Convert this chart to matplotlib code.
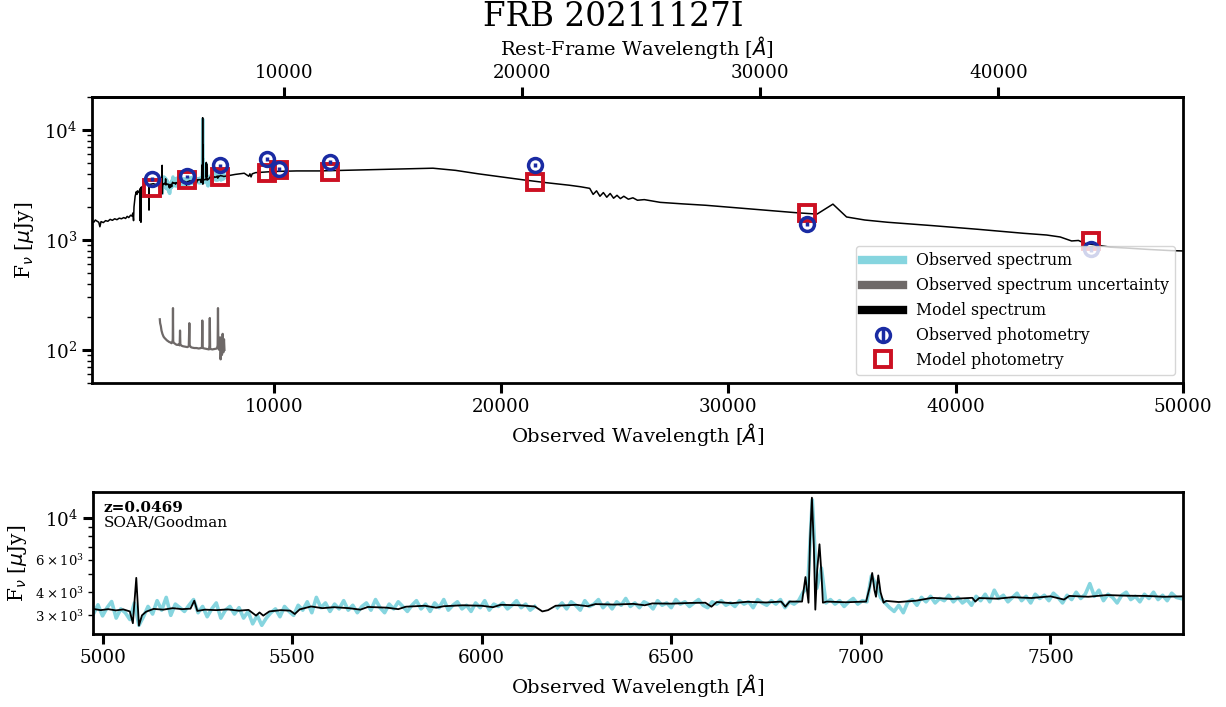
import numpy as np
import matplotlib
matplotlib.use("Agg")
import matplotlib.pyplot as plt
from matplotlib.lines import Line2D

plt.rcParams['font.family'] = ['DejaVu Serif']
plt.rcParams['mathtext.fontset'] = 'dejavusans'

# --- data ---
title = "FRB 20211127I"
redshift = 0.0469

# broad-band photometry (observed frame, Angstrom / microJy)
phot_wave = [4640, 6180, 7630, 9700, 10230, 12470, 21490, 33460, 45950]
obs_phot = [3590, 3820, 4810, 5450, 4420, 5120, 4810, 1400, 830]
obs_phot_err = [150, 120, 150, 200, 180, 200, 200, 60, 50]
model_phot = [2970, 3510, 3740, 4060, 4350, 4150, 3370, 1760, 980]

# model spectrum (observed frame)
model_wave = [2000, 2080, 2150, 2230, 2300, 2350, 2400, 2500, 2600, 2700, 2800,
              2900, 3000, 3100, 3200, 3300, 3400, 3480, 3550, 3620, 3700, 3760,
              3800, 3830, 3850, 3900, 3950, 3980, 4000, 4060, 4110, 4118, 4126,
              4150, 4155, 4162, 4250, 4350, 4450, 4500, 4510, 4520, 4700, 4860,
              4975, 4995, 5015, 5035, 5055, 5072, 5080, 5089, 5096, 5104, 5115,
              5135, 5160, 5185, 5210, 5232, 5242, 5250, 5270, 5300, 5330, 5360,
              5385, 5405, 5414, 5424, 5440, 5470, 5495, 5507, 5520, 5550, 5580,
              5610, 5650, 5680, 5700, 5750, 5780, 5800, 5850, 5880, 5900, 5950,
              6000, 6030, 6050, 6100, 6140, 6160, 6175, 6195, 6250, 6280, 6300,
              6350, 6400, 6430, 6450, 6500, 6550, 6590, 6606, 6620, 6660, 6700,
              6750, 6790, 6801, 6812, 6845, 6850, 6854, 6858, 6862, 6866, 6871,
              6876, 6880, 6885, 6891, 6896, 6900, 6910, 6960, 7014, 7024, 7030,
              7036, 7040, 7046, 7052, 7060, 7067, 7100, 7146, 7188, 7240, 7294,
              7302, 7312, 7360, 7400, 7450, 7500, 7536, 7550, 7600, 7650, 7700,
              7750, 7800, 7850,
              8000, 8300, 8700, 8900, 8950, 9000, 9050, 9200, 9600, 10000, 11000,
              12000, 13000, 14000, 15000, 16000, 17000, 18000, 19000, 20000,
              21000, 22000, 23000, 23500, 23900, 24050, 24200, 24350, 24500,
              24650, 24800, 24950, 25100, 25250, 25400, 25600, 25800, 26000,
              26300, 27000, 28000, 29000, 30000, 31000, 32000, 33000, 33900,
              34600, 35200, 36000, 37000, 38000, 39000, 40000, 41000, 42000,
              43000, 44000, 44600, 45100, 45400, 45700, 46200, 46800, 47500,
              48500, 49500, 50000]
model_flux = [1480, 1450, 1520, 1480, 1450, 1320, 1470, 1440, 1500, 1480, 1540,
              1510, 1560, 1530, 1580, 1560, 1600, 1570, 1640, 1600, 1680, 1650,
              1760, 1500, 2000, 2500, 2750, 2600, 2800, 2700, 2900, 1500, 2900,
              3000, 1450, 3000, 3100, 3200, 3250, 3150, 1870, 3200, 3250, 3180,
              3250, 3200, 3240, 3190, 3230, 3150, 2720, 4780, 2640, 3000, 3140,
              3250, 3220, 3280, 3240, 3260, 3600, 3170, 3220, 3200, 3230, 3180,
              3210, 2990, 3110, 2990, 3150, 3200, 3180, 3050, 3230, 3350, 3280,
              3320, 3280, 3220, 3330, 3300, 3240, 3340, 3380, 3300, 3360, 3400,
              3380, 3320, 3420, 3400, 3350, 3150, 3200, 3380, 3420, 3360, 3450,
              3430, 3460, 3400, 3480, 3470, 3500, 3510, 3340, 3540, 3490, 3550,
              3520, 3560, 3340, 3560, 3560, 4200, 4830, 4100, 3510, 7600, 12950,
              7200, 3220, 5300, 7260, 5100, 3510, 3560, 3530, 3560, 4300, 5080,
              4100, 3780, 4930, 4000, 3510, 3590, 3540, 3600, 3730, 3680, 3730,
              3560, 3720, 3690, 3760, 3720, 3800, 3650, 3820, 3780, 3860, 3830,
              3820, 3780, 3800,
              3850, 3950, 4050, 3800, 4000, 3750, 4000, 4100, 4150, 4200, 4250,
              4250, 4300, 4350, 4400, 4450, 4500, 4300, 4000, 3750,
              3520, 3320, 3150, 3050, 2950, 2600, 2800, 2500, 2700,
              2450, 2650, 2400, 2550, 2380, 2500, 2350, 2420, 2300,
              2330, 2200, 2130, 2070, 1990, 1910, 1840, 1770, 1720,
              2120, 1620, 1520, 1450, 1400, 1350, 1300, 1250, 1200,
              1150, 1110, 1065, 980, 990, 930, 900, 860, 845,
              820, 800, 795]

# observed SOAR/Goodman spectrum, 12 A pixels starting at 4976 A (nan = chip gap)
obs_start, obs_step = 4976, 12
obs_flux = [3050, 3420, 2980, 3300, 3560, 2900, 3250, 3100, 2850, 3500,
            2650, 2950, 3350, 3050, 3600, 3200, 3750, 3000, 3450, 3300,
            3150, 3400, 3650, 3100, 3350, 2950, 3250, 3500, 2900, 3200,
            3350, 3050, 3300, 2900, 3150, 2700, 3000, 2650, 2900, 3100,
            3250, 2950, 3350, 3150, 3000, 3400, 3200, 3550, 3100, 3750,
            3300, 3500, 3150, 3450, 3250, 3600, 3200, 3400, 3100, 3350,
            3500, 3200, 3650, 3300, 3100, 3450, 3250, 3550, 3350, 3150,
            3400, 3600, 3250, 3450, 3150, 3500, 3300, 3650, 3200, 3400,
            3550, 3250, 3400, 3150, 3500, 3300, 3600, 3200, 3450, 3350,
            3500, 3250, 3400, 3600, 3300, 3450, 3200, 3350, np.nan, np.nan,
            np.nan, np.nan, 3300, 3500, 3250, 3550, 3400, 3200, 3600, 3350,
            3450, 3650, 3300, 3500, 3250, 3550, 3400, 3700, 3350, 3500,
            3300, 3550, 3450, 3250, 3600, 3400, 3500, 3300, 3650, 3450,
            3550, 3350, 3500, 3650, 3400, 3300, 3550, 3450, 3600, 3400,
            3500, 3350, 3600, 3450, 3550, 3300, 3650, 3500, 3400, 3600,
            3450, 3650, 3300, 3550, 3450, 3600, 4000, 4300, 12600, 4200,
            5400, 3500, 3650, 3450, 3600, 3350, 3550, 3700, 3450, 3600,
            3550, 4900, 4400, 3750, 3500, 3300, 3150, 3400, 3100, 3550,
            3650, 3400, 3750, 3550, 3800, 3500, 3700, 3600, 3850, 3550,
            3750, 3500, 3650, 3400, 3800, 3600, 3900, 3550, 4100, 3700,
            3850, 3550, 3750, 3950, 3600, 3800, 3500, 3900, 3700, 3850,
            3600, 3950, 3750, 3500, 3850, 3650, 4000, 3700, 3900, 4450,
            3800, 4100, 3600, 3900, 3750, 3500, 3850, 4000, 3650, 3800,
            3550, 3900, 3700, 4000, 3650, 3850, 3600, 3950, 3750, 3700]
obs_wave = obs_start + obs_step * np.arange(len(obs_flux))

# observed spectrum uncertainty
unc_wave = [4985, 5000, 5030, 5060, 5100, 5150, 5200, 5250, 5300, 5350, 5400,
            5450, 5500, 5540, 5555, 5565, 5575, 5600, 5650, 5700, 5750, 5800,
            5860, 5875, 5890, 5950, 6000, 6100, 6200, 6260, 6285, 6300, 6350,
            6400, 6500, 6600, 6700, 6800, 6840, 6855, 6870, 6950, 7050, 7150,
            7170, 7185, 7200, 7300, 7400, 7500, 7530, 7545, 7560, 7600, 7640,
            7660, 7690, 7720, 7750, 7780, 7810, 7830]
unc_flux = [190, 175, 165, 150, 140, 132, 128, 125, 122, 120, 118,
            117, 115, 118, 125, 240, 120, 116, 114, 112, 111, 112,
            110, 150, 112, 109, 108, 107, 106, 108, 175, 110, 106,
            105, 104, 104, 103, 104, 105, 185, 104, 103, 102, 101,
            110, 195, 102, 101, 102, 103, 110, 240, 105, 100, 130,
            82, 118, 90, 140, 95, 125, 100]

c_obs = '#86d5df'
c_unc = '#6e6968'
c_mod = 'black'
c_ophot = '#1a2ba3'
c_mphot = '#cc1022'

fig = plt.figure(figsize=(12.26, 7.07), dpi=100)
ax1 = fig.add_axes([0.0750, 0.4583, 0.8899, 0.4045])
ax2 = fig.add_axes([0.0759, 0.1033, 0.8891, 0.2008])

# --- top panel: full SED ---
ax1.plot(obs_wave, obs_flux, color=c_obs, lw=2.4, zorder=1)
ax1.plot(unc_wave, unc_flux, color=c_unc, lw=1.6, zorder=1)
ax1.plot(model_wave, model_flux, color=c_mod, lw=1.1, zorder=2)
ax1.errorbar(phot_wave, obs_phot, yerr=obs_phot_err, fmt='o', ms=10,
             mfc='none', mec=c_ophot, mew=2.5, ecolor=c_ophot,
             elinewidth=2.5, capsize=0, zorder=4)
ax1.plot(phot_wave, model_phot, 's', ms=12, mfc='none', mec=c_mphot,
         mew=2.8, zorder=3)
ax1.set_yscale('log')
ax1.set_xlim(2000, 50000)
ax1.set_ylim(50, 2e4)
ax1.set_xticks([10000, 20000, 30000, 40000, 50000])
ax1.set_xlabel(r'Observed Wavelength [$\AA$]', fontsize=14)
ax1.set_ylabel(r'F$_\nu$ [$\mu$Jy]', fontsize=14.5, labelpad=6)

# rest-frame axis on top
secax = ax1.secondary_xaxis('top', functions=(lambda x: x / (1 + redshift),
                                              lambda x: x * (1 + redshift)))
secax.set_xticks([10000, 20000, 30000, 40000])
secax.set_xlabel(r'Rest-Frame Wavelength [$\AA$]', fontsize=14, labelpad=7)
secax.tick_params(axis='x', which='major', length=7, width=2.2, labelsize=13.2)
secax.spines['top'].set_linewidth(2)

handles = [Line2D([], [], color=c_obs, lw=6),
           Line2D([], [], color=c_unc, lw=6),
           Line2D([], [], color=c_mod, lw=6),
           ax1.containers[0],
           Line2D([], [], marker='s', ls='none', ms=11, mfc='none',
                  mec=c_mphot, mew=2.8)]
labels = ['Observed spectrum', 'Observed spectrum uncertainty',
          'Model spectrum', 'Observed photometry', 'Model photometry']
leg = ax1.legend(handles, labels, loc='lower right', fontsize=11.3,
                 handlelength=2.6, framealpha=0.8)
leg.set_zorder(10)

# --- bottom panel: spectrum zoom ---
ax2.plot(obs_wave, obs_flux, color=c_obs, lw=2.6, zorder=1)
ax2.plot(model_wave, model_flux, color=c_mod, lw=1.3, zorder=2)
ax2.set_yscale('log')
ax2.set_xlim(4975, 7850)
ax2.set_ylim(2380, 13900)
ax2.set_xlabel(r'Observed Wavelength [$\AA$]', fontsize=14)
ax2.set_ylabel(r'F$_\nu$ [$\mu$Jy]', fontsize=14.5, labelpad=4)
ax2.text(0.01, 0.86, 'z=0.0469', transform=ax2.transAxes, fontsize=11,
         fontweight='bold', va='baseline')
ax2.text(0.01, 0.755, 'SOAR/Goodman', transform=ax2.transAxes, fontsize=11,
         va='baseline')

for ax in (ax1, ax2):
    for sp in ax.spines.values():
        sp.set_linewidth(2)
    ax.tick_params(which='major', length=7, width=2.2, labelsize=13.2)
    ax.tick_params(which='minor', length=3.5, width=1)
ax2.tick_params(axis='y', which='minor', labelsize=9.5)

fig.suptitle(title, fontsize=23.5, y=0.998)

fig.savefig('out.png', dpi=100)
